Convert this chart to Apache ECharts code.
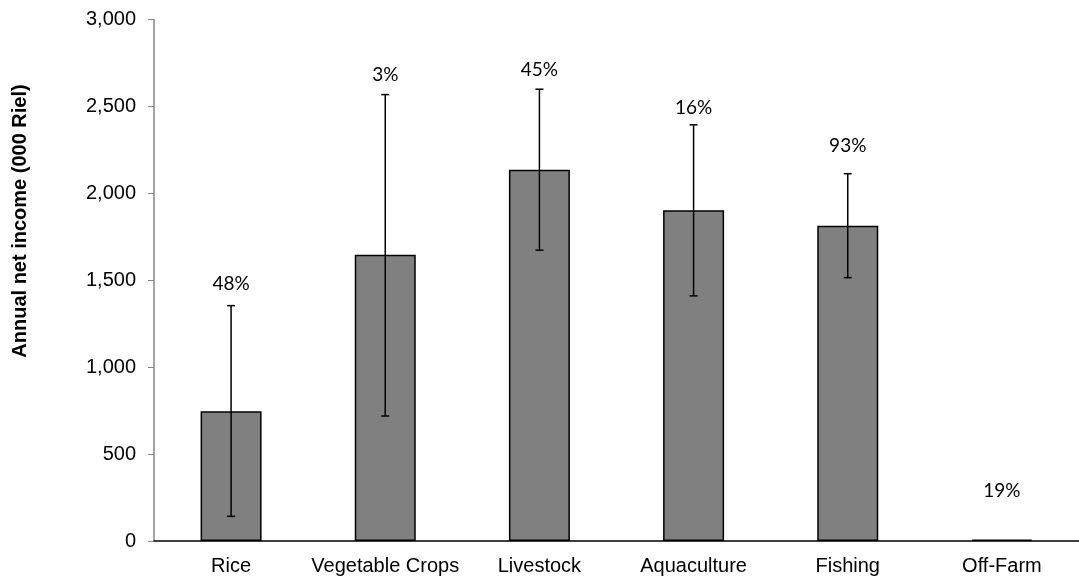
<!DOCTYPE html>
<html>
<head>
<meta charset="utf-8">
<script src="https://cdn.jsdelivr.net/npm/echarts@6/dist/echarts.min.js"></script>
<style>html,body{margin:0;padding:0;background:#fff}#c{width:1079px;height:578px}</style>
</head>
<body>
<div id="c"></div>
<script>
var categories = ['Rice', 'Vegetable Crops', 'Livestock', 'Aquaculture', 'Fishing', 'Off-Farm'];
var incomeValues = [746, 1646, 2136, 1903, 1814, 8];
var errorLow = [142, 719, 1673, 1410, 1515, null];
var errorHigh = [1354, 2568, 2599, 2394, 2113, null];
var pctLabels = ['48%', '3%', '45%', '16%', '93%', '19%'];
var yTicks = [0, 500, 1000, 1500, 2000, 2500, 3000];
var yTitle = 'Annual net income (000 Riel)';

// layout only: pixel gap between label and top of whisker/bar
var labelGap = [22, 20, 19, 17, 28, 49];

var chart = echarts.init(document.getElementById('c'));
var errData = categories.map(function (c, i) {
  return [i, errorLow[i], errorHigh[i], incomeValues[i]];
});

chart.setOption({
  animation: false,
  graphic: [{
    type: 'text',
    x: 20, y: 221,
    rotation: Math.PI / 2,
    style: {
      text: yTitle, fill: '#000',
      font: 'bold 20px "Liberation Sans", Arial, sans-serif',
      align: 'center', verticalAlign: 'middle'
    }
  }],
  grid: { left: 154, top: 19.5, width: 928, height: 521.5 },
  xAxis: {
    type: 'category',
    data: categories,
    axisLine: { lineStyle: { color: '#000', width: 1.5 } },
    axisTick: { show: false },
    axisLabel: { interval: 0, color: '#000', fontFamily: 'Liberation Sans, Arial', fontSize: 20, margin: 15 }
  },
  yAxis: {
    type: 'value',
    min: yTicks[0],
    max: yTicks[yTicks.length - 1],
    interval: 500,
    axisLine: { show: true, lineStyle: { color: '#868686', width: 1.5 } },
    axisTick: { show: true, length: 6, lineStyle: { color: '#868686' } },
    splitLine: { show: false },
    axisLabel: {
      color: '#000', fontFamily: 'Liberation Sans, Arial', fontSize: 20, margin: 18,
      formatter: function (v) { return v.toLocaleString('en-US'); }
    }
  },
  series: [
    {
      type: 'bar',
      data: incomeValues,
      barWidth: 61,
      itemStyle: { color: '#808080', borderColor: '#000', borderWidth: 1.5 }
    },
    {
      type: 'custom',
      data: errData,
      z: 10,
      renderItem: function (params, api) {
        var i = api.value(0);
        var children = [];
        var lowV = errorLow[i], highV = errorHigh[i];
        var topPt;
        if (highV != null) {
          var hi = api.coord([i, highV]);
          var lo = api.coord([i, lowV]);
          var cw = 4;
          var st = { stroke: '#000', lineWidth: 1.5 };
          children.push({ type: 'line', shape: { x1: hi[0], y1: hi[1], x2: lo[0], y2: lo[1] }, style: st });
          children.push({ type: 'line', shape: { x1: hi[0] - cw, y1: hi[1], x2: hi[0] + cw, y2: hi[1] }, style: st });
          children.push({ type: 'line', shape: { x1: lo[0] - cw, y1: lo[1], x2: lo[0] + cw, y2: lo[1] }, style: st });
          topPt = hi;
        } else {
          topPt = api.coord([i, incomeValues[i]]);
        }
        children.push({
          type: 'text',
          x: topPt[0], y: topPt[1] - labelGap[i],
          style: {
            text: pctLabels[i], fill: '#000',
            font: '19px Lato, "Open Sans", sans-serif',
            align: 'center', verticalAlign: 'middle'
          }
        });
        return { type: 'group', children: children };
      }
    }
  ]
});
</script>
</body>
</html>
